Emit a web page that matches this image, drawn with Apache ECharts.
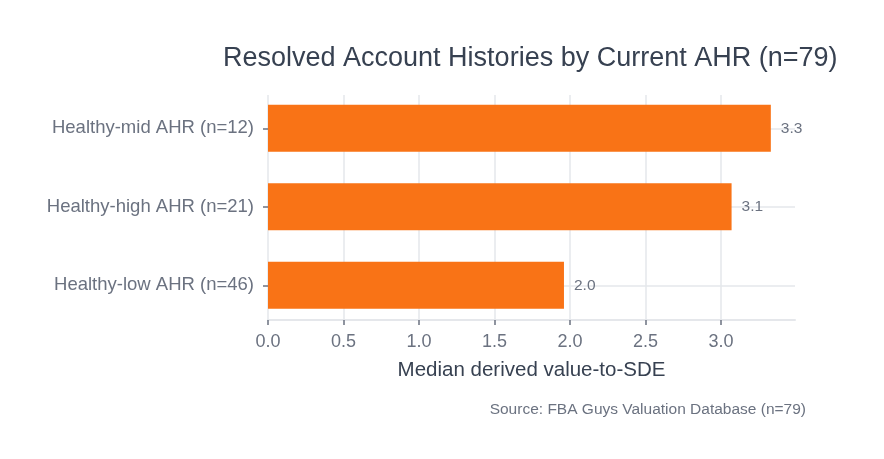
<!DOCTYPE html>
<html>
<head>
<meta charset="utf-8">
<script src="https://cdn.jsdelivr.net/npm/echarts@6/dist/echarts.min.js"></script>
<style>
html,body{margin:0;padding:0;background:#fff;}
#c{width:884px;height:459px;}
</style>
</head>
<body>
<div id="c"></div>
<script>
const categories = ["Healthy-mid AHR (n=12)", "Healthy-high AHR (n=21)", "Healthy-low AHR (n=46)"];
const values = [3.33, 3.07, 1.96];
const xTicks = [0, 0.5, 1.0, 1.5, 2.0, 2.5, 3.0];

const FONT = "'Liberation Sans', Arial, Helvetica, sans-serif";
const XMAX = 3.49;
const L = 268, R = 884 - 795;
const chart = echarts.init(document.getElementById('c'), null, {renderer: 'canvas'});
chart.setOption({
  backgroundColor: '#ffffff',
  animation: false,
  textStyle: {fontFamily: FONT},
  title: [{
    text: 'Resolved Account Histories by Current AHR (n=79)',
    left: 218, top: 40,
    textStyle: {fontFamily: FONT, fontSize: 27, fontWeight: 'normal', color: '#374151'}
  }, {
    text: 'Source: FBA Guys Valuation Database (n=79)',
    right: 73, top: 397,
    textStyle: {fontFamily: FONT, fontSize: 15.5, fontWeight: 'normal', color: '#6b7280'}
  }],
  grid: [
    {left: L, right: R, top: 89, height: 235.5, containLabel: false},
    {left: L, right: R, top: 95, bottom: 459 - 320, containLabel: false},
    {left: L, right: R, top: 128.3, height: 157, containLabel: false}
  ],
  xAxis: [
    {gridIndex: 0, type: 'value', min: 0, max: XMAX, show: false},
    {gridIndex: 1, type: 'value', min: 0, max: XMAX, interval: 0.5,
     axisLine: {show: true, lineStyle: {color: '#e5e7eb', width: 2}},
     axisTick: {show: true, length: 5, lineStyle: {color: '#6b7280', width: 1.5},
                customValues: xTicks},
     axisLabel: {color: '#6b7280', fontSize: 18, margin: 13, fontFamily: FONT,
                 customValues: xTicks, formatter: v => v.toFixed(1)},
     splitLine: {show: true, lineStyle: {color: '#e5e7eb', width: 1.5}},
     name: 'Median derived value-to-SDE', nameLocation: 'middle', nameGap: 40,
     nameTextStyle: {color: '#374151', fontSize: 20.5, fontFamily: FONT}},
    {gridIndex: 2, type: 'value', min: 0, max: XMAX, show: false}
  ],
  yAxis: [
    {gridIndex: 0, type: 'category', data: categories, inverse: true,
     axisLine: {show: false},
     axisTick: {show: true, alignWithLabel: true, length: 5, lineStyle: {color: '#6b7280', width: 1.5}},
     axisLabel: {color: '#6b7280', fontSize: 18.5, margin: 14, fontFamily: FONT},
     splitLine: {show: false}},
    {gridIndex: 1, type: 'value', min: 0, max: 1, show: false},
    {gridIndex: 2, type: 'category', data: categories, inverse: true, boundaryGap: false,
     axisLine: {show: false}, axisTick: {show: false}, axisLabel: {show: false},
     splitLine: {show: true, lineStyle: {color: '#e5e7eb', width: 1.5}}}
  ],
  series: [{
    type: 'bar', xAxisIndex: 0, yAxisIndex: 0, data: values,
    barWidth: '60%', z: 5,
    itemStyle: {color: '#f97316'},
    label: {show: true, position: 'right', distance: 10, color: '#6b7280', fontSize: 15.5,
            fontFamily: FONT, formatter: p => p.value.toFixed(1)}
  }]
});
</script>
</body>
</html>
